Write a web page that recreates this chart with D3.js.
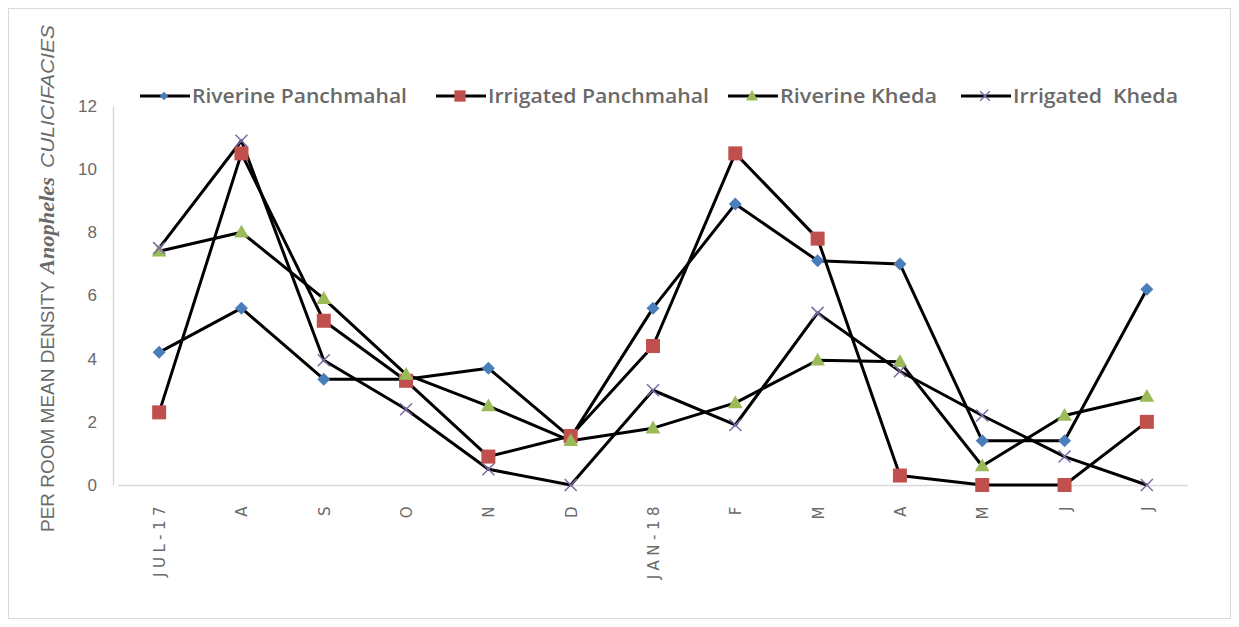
<!DOCTYPE html>
<html><head><meta charset="utf-8">
<script src="https://cdn.jsdelivr.net/npm/d3@7"></script>
<style>body{margin:0;background:#fff}svg{display:block}</style>
</head><body>
<script>
const categories = ["JUL-17","A","S","O","N","D","JAN-18","F","M","A","M","J","J"];
const riverinePanchmahal = [4.2,5.6,3.35,3.35,3.7,1.5,5.6,8.9,7.1,7.0,1.4,1.4,6.2];
const irrigatedPanchmahal = [2.3,10.5,5.2,3.3,0.9,1.55,4.4,10.5,7.8,0.3,0,0,2.0];
const riverineKheda = [7.4,8.0,5.9,3.5,2.5,1.4,1.8,2.6,3.95,3.9,0.6,2.2,2.8];
const irrigatedKheda = [7.5,10.9,3.95,2.4,0.5,0,3.0,1.9,5.45,3.6,2.2,0.9,0];
const seriesNames = ["Riverine Panchmahal","Irrigated Panchmahal","Riverine Kheda","Irrigated\u00a0 Kheda"];
const yTicks = [0,2,4,6,8,10,12];

const W=1239,H=627;
const svg=d3.select("body").append("svg").attr("width",W).attr("height",H);
svg.append("rect").attr("x",8.5).attr("y",8.5).attr("width",1222).attr("height",610).attr("fill","#fff").attr("stroke","#d9d9d9");

const x=d3.scaleBand().domain(d3.range(categories.length)).range([118,1188]);
const y=d3.scaleLinear().domain([0,12]).range([485,106]);
const cx=i=>x(i)+x.bandwidth()/2;
const gray="#6a6a6a";

// axes
svg.append("line").attr("x1",113.5).attr("x2",113.5).attr("y1",y(12)).attr("y2",y(0)).attr("stroke","#d9d9d9").attr("stroke-width",1.5);
svg.append("line").attr("x1",118).attr("x2",1188).attr("y1",y(0)+0.5).attr("y2",y(0)+0.5).attr("stroke","#d9d9d9").attr("stroke-width",1.5);

svg.selectAll(".yt").data(yTicks).enter().append("text")
  .attr("x",97).attr("y",d=>y(d)).attr("dy","0.35em").attr("text-anchor","end")
  .attr("font-family","Liberation Sans, Arial, sans-serif").attr("font-size",17).attr("fill",gray).text(d=>d);

svg.selectAll(".xt").data(categories).enter().append("text")
  .attr("transform",(d,i)=>`translate(${cx(i)+6},502) rotate(-90)`)
  .attr("text-anchor","end").attr("font-family","DejaVu Sans, sans-serif")
  .attr("font-size",15).attr("letter-spacing","4.5px").attr("fill",gray).text(d=>d);

// y title
const tg=svg.append("g").attr("transform","translate(54,0) rotate(-90)");
tg.append("text").attr("x",-532).attr("y",0).attr("textLength",251).attr("lengthAdjust","spacingAndGlyphs")
  .attr("font-family","Liberation Sans, Arial, sans-serif").attr("font-size",18).attr("fill",gray).text("PER ROOM MEAN DENSITY");
tg.append("text").attr("x",-274).attr("y",0).attr("textLength",97).attr("lengthAdjust","spacingAndGlyphs")
  .attr("font-family","Liberation Serif, Times New Roman, serif").attr("font-style","italic").attr("font-weight","bold").attr("font-size",20).attr("fill",gray).text("Anopheles");
tg.append("text").attr("x",-168).attr("y",0).attr("textLength",143).attr("lengthAdjust","spacingAndGlyphs")
  .attr("font-family","Liberation Sans, Arial, sans-serif").attr("font-style","italic").attr("font-size",18).attr("fill",gray).text("CULICIFACIES");

const data=[riverinePanchmahal,irrigatedPanchmahal,riverineKheda,irrigatedKheda];
const markers=["diamond","square","triangle","x"];
const colors=["#4a7ebb","#c0504d","#9bbb59","#7e6aa8"];

function drawMarker(g,type,color,px,py,s){
  s=s||1;
  if(type==="diamond"){
    const h=6.5*s;
    g.append("path").attr("d",`M${px},${py-h}L${px+h},${py}L${px},${py+h}L${px-h},${py}Z`).attr("fill",color);
  } else if(type==="square"){
    const h=7*Math.sqrt(s);
    g.append("rect").attr("x",px-h).attr("y",py-h).attr("width",2*h).attr("height",2*h).attr("fill",color);
  } else if(type==="triangle"){
    g.append("path").attr("d",d3.symbol(d3.symbolTriangle,95*s)()).attr("transform",`translate(${px},${py+1})`).attr("fill",color);
  } else {
    const h=6*Math.sqrt(s);
    g.append("path").attr("d",`M${px-h},${py-h}L${px+h},${py+h}M${px-h},${py+h}L${px+h},${py-h}`).attr("stroke",color).attr("stroke-width",1.5).attr("fill","none");
  }
}

const line=d3.line().x((d,i)=>cx(i)).y(d=>y(d));
data.forEach((s,k)=>{
  svg.append("path").datum(s).attr("d",line).attr("fill","none").attr("stroke","#000").attr("stroke-width",3).attr("stroke-linejoin","round");
});
data.forEach((s,k)=>{
  const g=svg.append("g");
  s.forEach((v,i)=>drawMarker(g,markers[k],colors[k],cx(i),y(v)));
});

// legend
const legX=[140,436,728,961];
const legW=[215,221,157,165];
seriesNames.forEach((n,k)=>{
  const g=svg.append("g");
  g.append("line").attr("x1",legX[k]).attr("x2",legX[k]+50).attr("y1",96).attr("y2",96).attr("stroke","#000").attr("stroke-width",3);
  drawMarker(g,markers[k],colors[k],legX[k]+24,96,0.65);
  g.append("text").attr("x",legX[k]+52).attr("y",96).attr("dy","0.36em")
   .attr("textLength",legW[k]).attr("lengthAdjust","spacingAndGlyphs")
   .attr("font-family","Open Sans, Liberation Sans, sans-serif").attr("font-weight",600).attr("font-size",19).attr("fill",gray).text(n);
});
</script>
</body></html>
